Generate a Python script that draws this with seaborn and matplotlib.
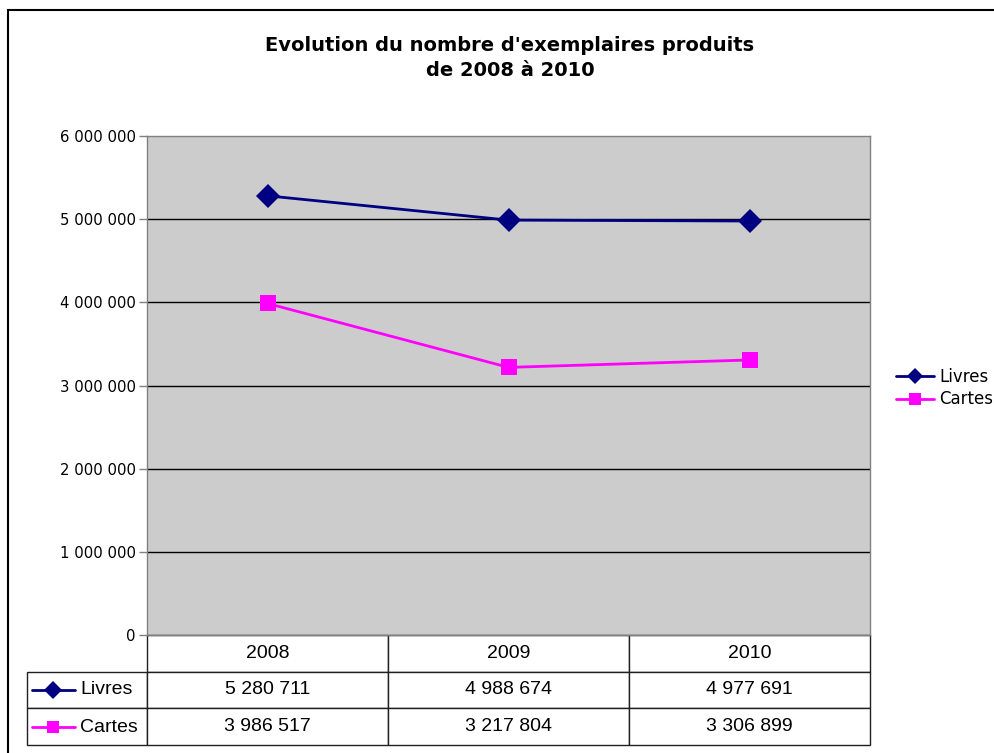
import pandas as pd
import numpy as np
import seaborn as sns
import matplotlib.pyplot as plt
from matplotlib.table import Table
from matplotlib.ticker import FuncFormatter, MultipleLocator
from matplotlib.patches import Rectangle

# data
years = ["2008", "2009", "2010"]
livres = [5280711, 4988674, 4977691]
cartes = [3986517, 3217804, 3306899]
series_names = ["Livres", "Cartes"]
colors = {"Livres": "#000080", "Cartes": "#FF00FF"}
markers = {"Livres": "D", "Cartes": "s"}

df = pd.DataFrame({
    "pos": list(range(len(years))) * 2,
    "serie": ["Livres"] * len(years) + ["Cartes"] * len(years),
    "value": livres + cartes,
})

def fmt(v):
    return f"{int(v):,}".replace(",", " ")

sns.set_style("white")
plt.rcParams["font.family"] = ["DejaVu Sans"]
plt.rcParams["text.color"] = "black"
plt.rcParams["ytick.labelcolor"] = "black"

W, H = 994, 753
fig = plt.figure(figsize=(W / 100, H / 100), dpi=100)

# plot area in pixels
px0, px1, py0, py1 = 147, 870, 136, 635
ax = fig.add_axes([px0 / W, 1 - py1 / H, (px1 - px0) / W, (py1 - py0) / H])
ax.set_facecolor("#CCCCCC")

sns.lineplot(data=df, x="pos", y="value", hue="serie", style="serie",
             palette=colors, markers=markers, dashes=False, markersize=12,
             linewidth=2, markeredgewidth=0, legend=False, ax=ax)

ax.set_xlim(-0.5, len(years) - 0.5)
ax.set_ylim(0, 6000000)
ax.yaxis.set_major_locator(MultipleLocator(1000000))
ax.yaxis.set_major_formatter(FuncFormatter(lambda v, p: fmt(v)))
for v in range(1000000, 6000000, 1000000):
    ax.axhline(v, color="black", lw=1, zorder=0.5)
ax.set_xticks([])
ax.set_xlabel("")
ax.set_ylabel("")
ax.tick_params(axis="y", which="major", direction="out", length=6, width=1,
               color="#808080", labelsize=10.7, pad=2, left=True)
for s in ax.spines.values():
    s.set_color("#808080")
    s.set_linewidth(1)

# title
fig.text(510 / W, 1 - 58 / H, "Evolution du nombre d'exemplaires produits\nde 2008 à 2010",
         ha="center", va="center", fontsize=14, fontweight="bold", linespacing=1.4)

# legend at right
handles = []
for name in series_names:
    h, = ax.plot([], [], color=colors[name], marker=markers[name], lw=2,
                 markersize=8, markeredgewidth=0)
    handles.append(h)
fig.legend(handles, series_names, loc="center left", bbox_to_anchor=(889 / W, 1 - 388 / H),
           frameon=False, fontsize=12, handlelength=2.3, handletextpad=0.3,
           labelspacing=0.3, borderaxespad=0)

# data table below the plot
tx0, tx1 = 27, 870
ty0, ty1 = 635, 745
tab = Table(ax, bbox=[(tx0 - px0) / (px1 - px0), -(ty1 - ty0) / (py1 - py0),
                      (tx1 - tx0) / (px1 - px0), (ty1 - ty0) / (py1 - py0)])
lab_w, col_w = 120, 241
rows = [livres, cartes]
for c in range(len(years) + 1):
    for r in range(len(rows) + 1):
        w = lab_w if c == 0 else col_w
        if r == 0 and c == 0:
            cell = tab.add_cell(r, c, w, 1, text="")
            cell.visible_edges = "open"
            continue
        if r == 0:
            txt = years[c - 1]
        elif c == 0:
            txt = ""
        else:
            txt = fmt(rows[r - 1][c - 1])
        cell = tab.add_cell(r, c, w, 1, text=txt, loc="center", facecolor="white")
        cell.set_edgecolor("#202020")
        cell.set_linewidth(1)
        cell.get_text().set_fontsize(14)
        cell.get_text().set_fontfamily("Liberation Sans")
tab.auto_set_font_size(False)
tab.set_clip_on(False)
ax.add_table(tab)

# legend keys + labels inside the row label cells
for i, name in enumerate(series_names):
    yc = 1 - (690 + i * 37) / H
    fig.add_artist(plt.Line2D([32 / W, 53 / W, 75 / W], [yc, yc, yc], color=colors[name],
                              lw=2, marker=markers[name], markevery=[1], markersize=9,
                              markeredgewidth=0))
    fig.text(80 / W, yc, name, ha="left", va="center", fontsize=14,
             family="Liberation Sans")

# chart frame
fig.add_artist(Rectangle((8 / W, -0.2), 1.5, 1.2 - 10 / H, transform=fig.transFigure,
                         fill=False, edgecolor="black", lw=1.5))

fig.savefig("out.png", dpi=100, facecolor="white")
